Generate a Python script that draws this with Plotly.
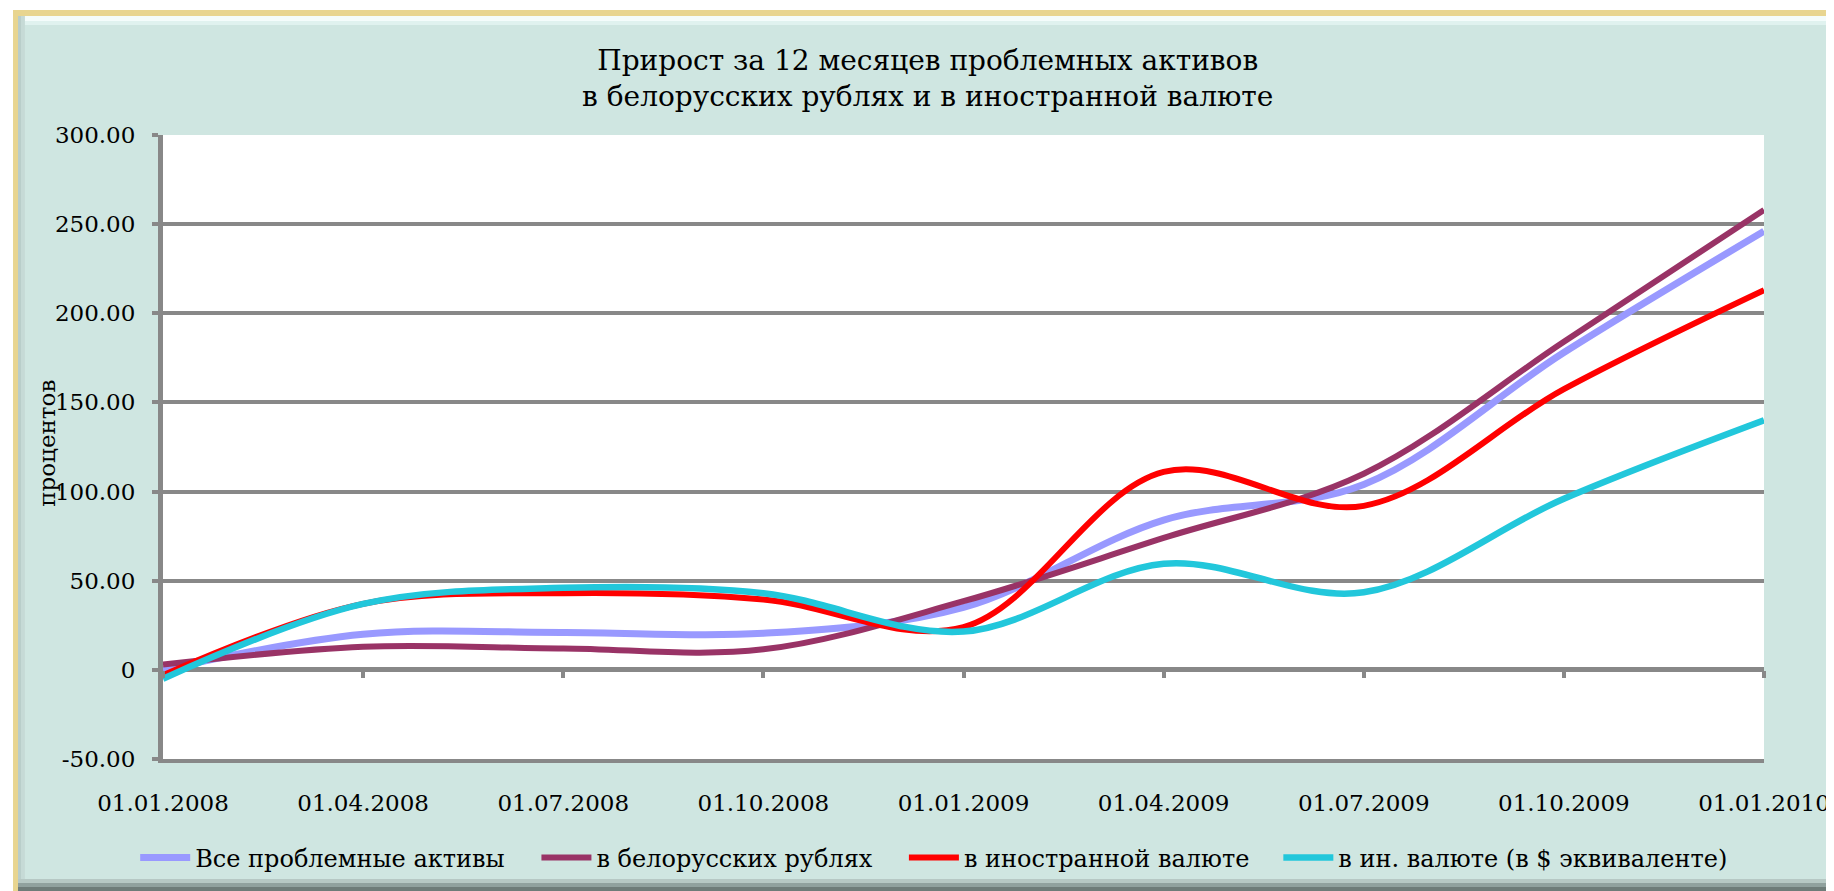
import plotly.graph_objects as go

# ---- data (quarterly points) ----
dates = ["01.01.2008", "01.04.2008", "01.07.2008", "01.10.2008", "01.01.2009",
         "01.04.2009", "01.07.2009", "01.10.2009", "01.01.2010"]
all_assets = [0, 20, 21, 20.5, 35, 84, 104, 178, 246]
in_byr = [3, 13, 12, 11.5, 38.5, 74, 110, 184, 258]
in_fx = [-3, 37, 43, 39.5, 24, 111, 92, 157.5, 213]
in_fx_usd = [-5, 37, 46, 43, 21.5, 59.5, 43.5, 96, 140]

series_names = ["Все проблемные активы", "в белорусских рублях",
                "в иностранной валюте", "в ин. валюте (в $ эквиваленте)"]
series_values = [all_assets, in_byr, in_fx, in_fx_usd]
series_colors = ["#9999FF", "#993366", "#FF0000", "#22C7DB"]
series_widths = [7, 6, 6, 6.5]

y_tickvals = [-50, 0, 50, 100, 150, 200, 250, 300]
y_ticktext = ["-50.00", "0", "50.00", "100.00", "150.00", "200.00", "250.00", "300.00"]

title_text = "Прирост за 12 месяцев проблемных активов<br>в белорусских рублях и в иностранной валюте"
y_title = "процентов"

# ---- geometry (page pixels) ----
WIDTH, HEIGHT = 1834, 891
OFFX, OFFY = 4, 8
Lp, Rp, Tp, Bp = 159, 1771, 135, 759
PW, PH = Rp - Lp, Bp - Tp


def px(x):
    return (x - Lp) / PW


def py(y):
    return (Bp - y) / PH


FONT = "DejaVu Serif"
GRID = "#888888"
BG = "#CFE6E1"

legend_ids = ["legend", "legend2", "legend3", "legend4"]
legend_x = [131, 535, 905, 1282]

xs = list(range(len(dates)))

fig = go.Figure()
for name, vals, col, w, lid in zip(series_names, series_values, series_colors,
                                   series_widths, legend_ids):
    fig.add_trace(go.Scatter(
        x=xs, y=vals, name=name, mode="lines", legend=lid,
        line=dict(color=col, width=w, shape="spline", smoothing=1.0),
        hoverinfo="skip",
    ))

# invisible trace carrying the tick axis that sits on the zero line
fig.add_trace(go.Scatter(x=xs, y=[None] * len(xs), xaxis="x2", showlegend=False,
                         hoverinfo="skip", mode="lines"))

zero_pos = (0 - y_tickvals[0]) / (y_tickvals[-1] - y_tickvals[0])


def rect(x0, y0, x1, y1, color):
    return dict(type="rect", xref="paper", yref="paper",
                x0=px(x0), x1=px(x1), y0=py(y0), y1=py(y1),
                fillcolor=color, line=dict(width=0), layer="above")


shapes = [
    rect(-20, -20, WIDTH + 20, 10, "#FFFFFF"),
    rect(-20, -20, 8, HEIGHT + 20, "#FFFFFF"),
    rect(8, 10, 13, HEIGHT + 20, "#E8D590"),
    rect(8, 10, WIDTH + 20, 16, "#E8D590"),
    rect(13, 16, WIDTH + 20, 21, "#F4FCFB"),
    rect(13, 21, WIDTH + 20, 25, "#E0F2EF"),
    rect(13, 16, 16, HEIGHT + 20, "#B9CDC9"),
    rect(16, 16, 20, HEIGHT + 20, "#C6DAD6"),
    rect(13, 879, WIDTH + 20, 883, "#B6C8C4"),
    rect(13, 883, WIDTH + 20, 887, "#90A19E"),
    rect(13, 887, WIDTH + 20, HEIGHT + 20, "#6E7C79"),
]

legend_common = dict(orientation="h", yanchor="middle", xanchor="left",
                     bgcolor="rgba(0,0,0,0)", font=dict(family=FONT, size=24),
                     itemwidth=50)
legends = {lid: dict(legend_common, x=px(lx), y=py(858))
           for lid, lx in zip(legend_ids, legend_x)}

fig.update_layout(
    width=WIDTH, height=HEIGHT,
    margin=dict(l=Lp - OFFX, r=WIDTH - (Rp - OFFX), t=Tp - OFFY, b=HEIGHT - (Bp - OFFY), pad=0),
    paper_bgcolor=BG, plot_bgcolor="#FFFFFF",
    font=dict(family=FONT, size=23, color="#000000"),
    title=dict(text=title_text, x=px(929), xref="paper", xanchor="center",
               y=1 - 62 / HEIGHT, yref="container", yanchor="middle",
               font=dict(family=FONT, size=28, color="#000000")),
    showlegend=True,
    xaxis=dict(range=[0, len(dates) - 1], tickvals=xs, ticktext=dates,
               showgrid=False, zeroline=False, showline=True, linecolor=GRID, linewidth=4,
               ticks="", ticklabelstandoff=20, ticklabeloverflow="allow", fixedrange=True),
    xaxis2=dict(range=[0, len(dates) - 1], overlaying="x", anchor="free", position=zero_pos,
                tickvals=xs, showticklabels=False, showgrid=False, zeroline=False,
                showline=False, ticks="outside", ticklen=7, tickwidth=4, tickcolor=GRID),
    yaxis=dict(range=[y_tickvals[0], y_tickvals[-1]], tickvals=y_tickvals, ticktext=y_ticktext,
               showgrid=True, gridcolor=GRID, gridwidth=4,
               zeroline=True, zerolinecolor=GRID, zerolinewidth=5,
               showline=True, linecolor=GRID, linewidth=5,
               ticks="outside", ticklen=6, tickwidth=4, tickcolor=GRID,
               ticklabelstandoff=12, fixedrange=True),
    shapes=shapes,
    annotations=[dict(text=y_title, textangle=-90, xref="paper", yref="paper",
                      x=px(42), y=py(443), xanchor="center", yanchor="middle",
                      showarrow=False, font=dict(family=FONT, size=23))],
    **legends,
)

fig.write_html("out.html")
